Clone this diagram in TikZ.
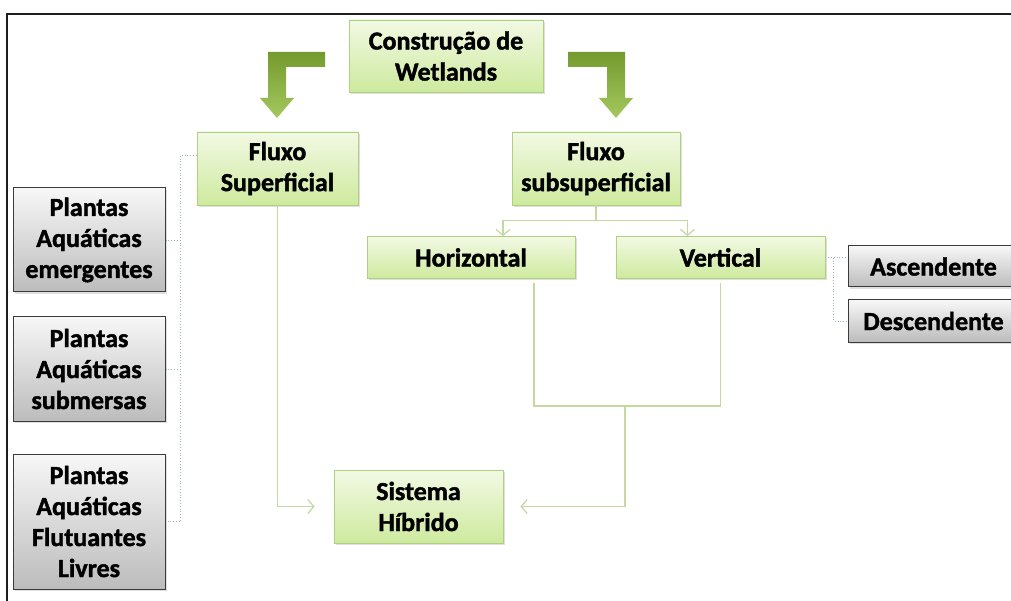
\documentclass[tikz,border=0pt]{standalone}
\usepackage{fontspec}
\setmainfont{Carlito}[BoldFeatures={FakeBold=1.6}]
\usepackage{tikz}
\usetikzlibrary{arrows.meta,shadows}
\definecolor{figline}{RGB}{30,30,30}
\definecolor{grntop}{RGB}{242,249,228}
\definecolor{grnbot}{RGB}{206,234,158}
\definecolor{grnedge}{RGB}{176,208,128}
\definecolor{gytop}{RGB}{247,247,247}
\definecolor{gybot}{RGB}{188,188,188}
\definecolor{gyedge}{RGB}{58,58,58}
\definecolor{lnkcol}{RGB}{196,216,160}
\definecolor{brkcol}{RGB}{158,178,200}
\definecolor{arrtop}{RGB}{116,154,46}
\definecolor{arrbot}{RGB}{164,200,94}
\tikzset{
  txt/.style  ={font=\fontsize{26}{31}\selectfont\bfseries, text=black, align=center, inner sep=0pt},
  gbox/.style ={txt, draw=grnedge, line width=0.8pt, top color=grntop, bottom color=grnbot,
                drop shadow={opacity=0.25, shadow xshift=2pt, shadow yshift=-2pt}},
  gybox/.style={txt, draw=gyedge, line width=1pt, top color=gytop, bottom color=gybot,
                drop shadow={opacity=0.25, shadow xshift=2pt, shadow yshift=-2pt}},
  lnk/.style  ={draw=lnkcol, line width=1.2pt},
  tip/.style  ={-{Straight Barb[length=6pt,width=14pt]}},
  brk/.style  ={draw=brkcol, line width=0.8pt, dotted},
  bent/.style ={top color=arrtop, bottom color=arrbot},
}

\begin{document}
\begin{tikzpicture}[x=1pt,y=-1pt]
  \clip (0,0) rectangle (1011,601);
  \fill[white] (0,0) rectangle (1011,601);
  \draw[figline,line width=2.5pt] (1011,14) -- (7,14) -- (7,601);
  % main boxes
  \node[gbox,minimum width=194pt,minimum height=72pt] (wet) at (446,56) {Construção de\\Wetlands};
  \node[gbox,minimum width=161pt,minimum height=73pt] (sup) at (277.5,168.5) {Fluxo\\Superficial};
  \node[gbox,minimum width=168pt,minimum height=73pt] (sub) at (596,168.5) {Fluxo\\subsuperficial};
  \node[gbox,minimum width=208pt,minimum height=42pt] (hor) at (471,257.5) {Horizontal};
  \node[gbox,minimum width=209pt,minimum height=42pt] (ver) at (720.5,257.5) {Vertical};
  \node[gbox,minimum width=169pt,minimum height=73pt] (hib) at (418.5,506.5) {Sistema\\Híbrido};
  % grey boxes
  \node[gybox,minimum width=152pt,minimum height=104pt] (pl1) at (89,240) {Plantas\\Aquáticas\\emergentes};
  \node[gybox,minimum width=152pt,minimum height=104pt] (pl2) at (89,369) {Plantas\\Aquáticas\\submersas};
  \node[gybox,minimum width=152pt,minimum height=135pt] (pl3) at (89,521.5) {Plantas\\Aquáticas\\Flutuantes\\Livres};
  \node[gybox,minimum width=171pt,minimum height=41pt] (asc) at (933.5,266.5) {Ascendente};
  \node[gybox,minimum width=171pt,minimum height=42pt] (desc) at (933.5,321) {Descendente};
  % bent arrows
  \shade[bent] (325,52) -- (268,52) -- (268,98) -- (260,98) -- (277,118) -- (294,98)
    -- (286,98) -- (286,67) -- (325,67) -- cycle;
  \shade[bent] (568,52) -- (625,52) -- (625,98) -- (633,98) -- (616,118) -- (599,98)
    -- (607,98) -- (607,67) -- (568,67) -- cycle;
  % connectors
  \draw[lnk,tip] (sub.south) -- ++(0,15) -| ([xshift=32pt]hor.north);
  \draw[lnk,tip] (sub.south) -- ++(0,15) -| ([xshift=-33pt]ver.north);
  \coordinate (jn) at (625,406);
  \draw[lnk] ([xshift=63pt,yshift=-4pt]hor.south) |- (jn);
  \draw[lnk] ([yshift=-4pt]ver.south) |- (jn);
  \draw[lnk,tip] (jn) |- ([xshift=17pt]hib.east);
  \draw[lnk,tip] (sup.south) |- ([xshift=-19pt]hib.west);
  % dotted brackets
  \draw[brk] ([yshift=13.5pt]sup.west) -- ++(-16,0) |- (pl3.east);
  \draw[brk] (pl1.east) -- ++(16,0);
  \draw[brk] (pl2.east) -- ++(16,0);
  \draw[brk] (ver.east) -- (ver.east -| asc.west);
  \draw[brk] (ver.east) -- ++(8,0) |- (desc.west);
\end{tikzpicture}
\end{document}
